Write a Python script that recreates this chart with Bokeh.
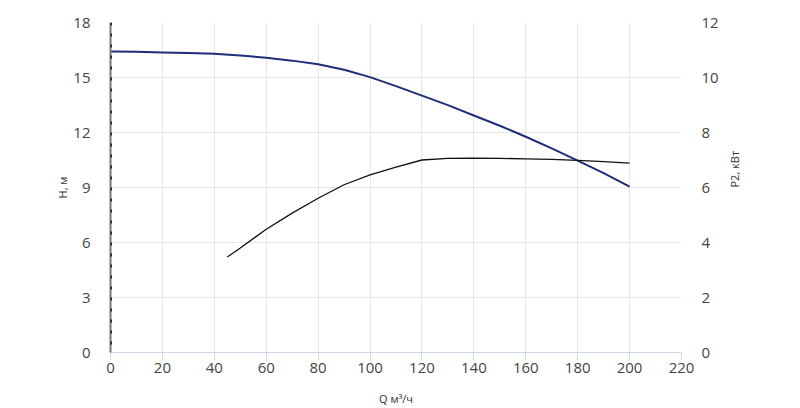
import math
from bokeh.plotting import figure
from bokeh.models import Range1d, LinearAxis, FixedTicker, Span
from bokeh.embed import file_html
from bokeh.resources import INLINE

# Head curve H(Q)
q_head = [0, 10, 20, 30, 40, 50, 60, 70, 80, 90, 100,
          110, 120, 130, 140, 150, 160, 170, 180, 190, 200]
h_head = [16.42, 16.40, 16.37, 16.34, 16.30, 16.20, 16.08, 15.92, 15.72, 15.42, 15.02,
          14.53, 14.01, 13.49, 12.93, 12.37, 11.77, 11.13, 10.47, 9.78, 9.05]

# Power curve P2(Q)
q_pow = [45, 50, 60, 70, 80, 90, 100, 110, 120, 130, 140, 150, 160, 170, 180, 190, 200]
p_pow = [3.47, 3.80, 4.48, 5.07, 5.61, 6.10, 6.46, 6.74, 7.00, 7.06, 7.07, 7.06, 7.04, 7.02,
         6.99, 6.94, 6.89]

x_ticks = [0, 20, 40, 60, 80, 100, 120, 140, 160, 180, 200, 220]
h_ticks = [0, 3, 6, 9, 12, 15, 18]
p_ticks = [0, 2, 4, 6, 8, 10, 12]

FONT = "Open Sans"
TICK_COLOR = "#444444"

p = figure(width=784, height=408, output_backend="svg", toolbar_location=None,
           x_range=Range1d(0, 220), y_range=Range1d(0, 18),
           min_border_left=110, min_border_right=103, min_border_top=22, min_border_bottom=56)
p.outline_line_color = None
p.background_fill_color = "white"
p.border_fill_color = "white"
p.extra_y_ranges = {"pow": Range1d(0, 12)}

p.xgrid.grid_line_color = "#e6e6e6"
p.ygrid.grid_line_color = "#e6e6e6"
p.xgrid.ticker = FixedTicker(ticks=x_ticks)
p.ygrid.ticker = FixedTicker(ticks=h_ticks)

# bottom axis
xa = p.xaxis[0]
xa.ticker = FixedTicker(ticks=x_ticks)
xa.axis_line_color = "#ccd6eb"
xa.axis_line_width = 1
xa.major_tick_line_color = "#ccd6eb"
xa.major_tick_in = 0
xa.major_tick_out = 8
xa.minor_tick_line_color = None
xa.major_label_text_font = FONT
xa.major_label_text_font_size = "15px"
xa.major_label_text_color = TICK_COLOR
xa.major_label_standoff = 2
xa.axis_label = "Q м³/ч"
xa.axis_label_text_font = FONT
xa.axis_label_text_font_style = "normal"
xa.axis_label_text_font_size = "11px"
xa.axis_label_text_color = "#333333"
xa.axis_label_standoff = 15

# left axis
ya = p.yaxis[0]
ya.ticker = FixedTicker(ticks=h_ticks)
ya.axis_line_color = "#777777"
ya.axis_line_width = 2
ya.major_tick_line_color = None
ya.minor_tick_line_color = None
ya.major_label_text_font = FONT
ya.major_label_text_font_size = "15px"
ya.major_label_text_color = TICK_COLOR
ya.major_label_standoff = 14
ya.axis_label = "H, м"
ya.axis_label_text_font = FONT
ya.axis_label_text_font_style = "normal"
ya.axis_label_text_font_size = "11px"
ya.axis_label_text_color = "#333333"
ya.axis_label_standoff = 0

# right axis
ra = LinearAxis(y_range_name="pow", ticker=FixedTicker(ticks=p_ticks))
ra.axis_line_color = None
ra.major_tick_line_color = None
ra.minor_tick_line_color = None
ra.major_label_text_font = FONT
ra.major_label_text_font_size = "15px"
ra.major_label_text_color = TICK_COLOR
ra.major_label_standoff = 14
ra.axis_label = "P2, кВт"
ra.axis_label_orientation = math.pi / 2
ra.axis_label_text_align = "center"
ra.axis_label_text_baseline = "middle"
ra.axis_label_text_font = FONT
ra.axis_label_text_font_style = "normal"
ra.axis_label_text_font_size = "11px"
ra.axis_label_text_color = "#333333"
ra.axis_label_standoff = 13
p.add_layout(ra, "right")

# dotted marks on the left axis line
p.add_layout(Span(location=0, dimension="height", line_color="#222222",
                  line_width=3, line_dash="3 8"))

p.line(q_head, h_head, line_color="#1f2d7a", line_width=2)
p.line(q_pow, p_pow, y_range_name="pow", line_color="#111111", line_width=1.3)

open("out.html", "w").write(file_html(p, INLINE))
